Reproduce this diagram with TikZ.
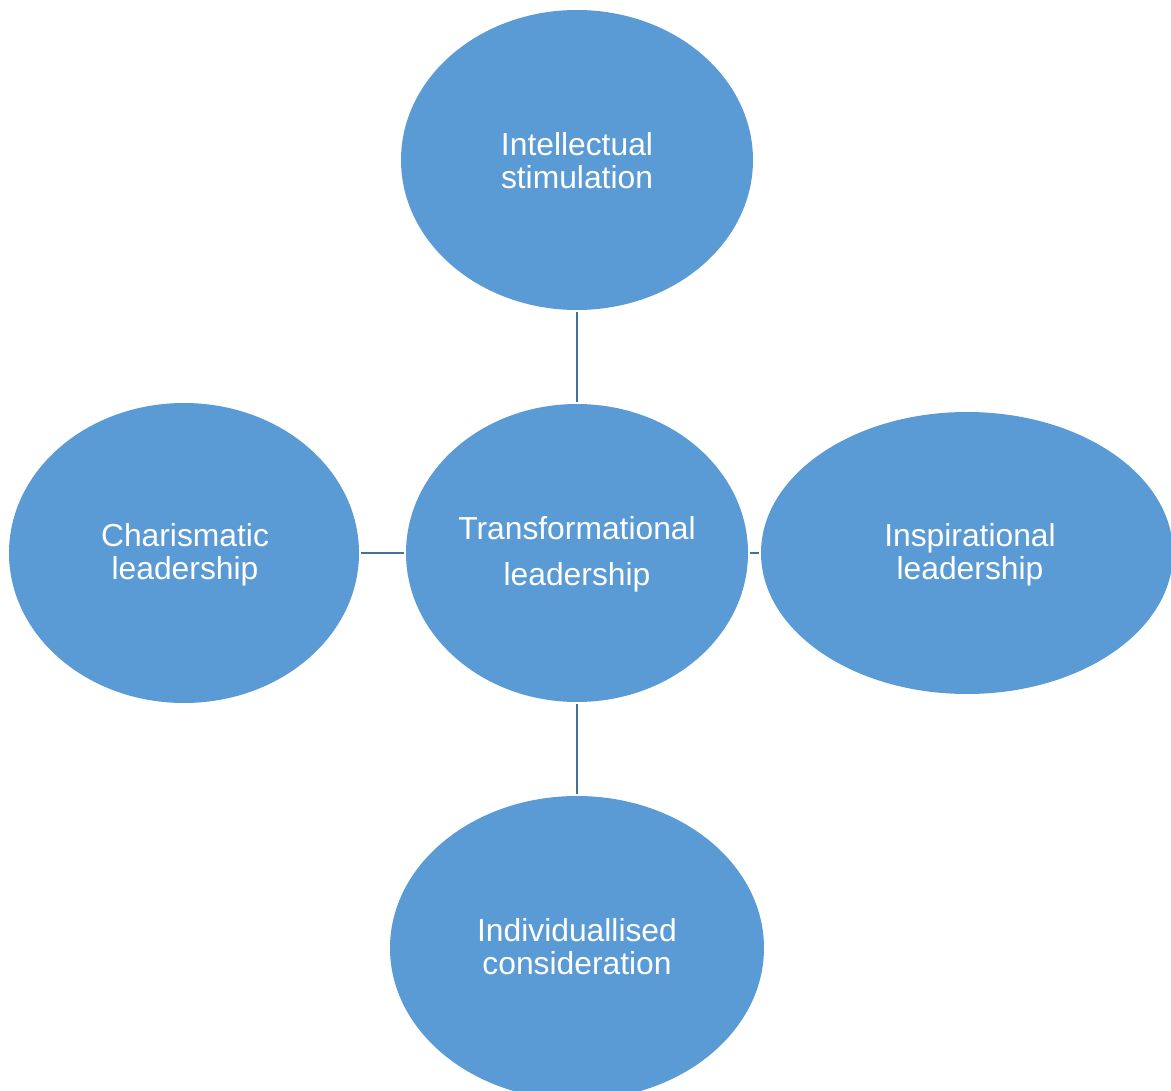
\documentclass[tikz,border=0pt]{standalone}
\usepackage{fontspec}
\setmainfont{Liberation Sans}
\usetikzlibrary{shapes.geometric}
\definecolor{bubblefill}{HTML}{5B9BD5}
\definecolor{linkline}{HTML}{41719C}
\begin{document}
\begin{tikzpicture}[x=1pt,y=-1pt,
  bubble/.style={ellipse, fill=bubblefill, draw=none, inner sep=0pt},
  caption/.style={text=white, align=center, inner sep=0pt,
    font=\fontsize{31.8}{33}\selectfont},
  link/.style={draw=linkline, line width=2.8pt, shorten >=2pt, shorten <=2pt}]
  \useasboundingbox (0,0) rectangle (1171,1091);
  % centre concept and the four surrounding concepts
  \node[bubble, minimum width=342pt, minimum height=298pt] (core) at (577,553) {};
  \node[bubble, minimum width=352pt, minimum height=300pt] (top) at (577,160) {};
  \node[bubble, minimum width=350pt, minimum height=300pt] (left) at (184,553) {};
  \node[bubble, minimum width=412pt, minimum height=282pt] (right) at (967,553) {};
  \node[bubble, minimum width=374pt, minimum height=304pt] (bottom) at (577,948) {};
  % labels
  \node[caption, font=\fontsize{31.8}{46}\selectfont] (coretxt) at (577,554) {Transformational\\leadership};
  \node[caption] (toptxt) at (577,161) {Intellectual\\stimulation};
  \node[caption] (lefttxt) at (185,555) {Charismatic\\leadership};
  \node[caption] (righttxt) at (970,555) {Inspirational\\leadership};
  \node[caption] (bottomtxt) at (577,947) {Individuallised\\consideration};
  % connectors
  \draw[link] (top.south) -- (core.north);
  \draw[link] (core.south) -- (bottom.north);
  \draw[link] (left.east) -- (core.west);
  \draw[link] (core.east) -- (right.west);
\end{tikzpicture}
\end{document}
